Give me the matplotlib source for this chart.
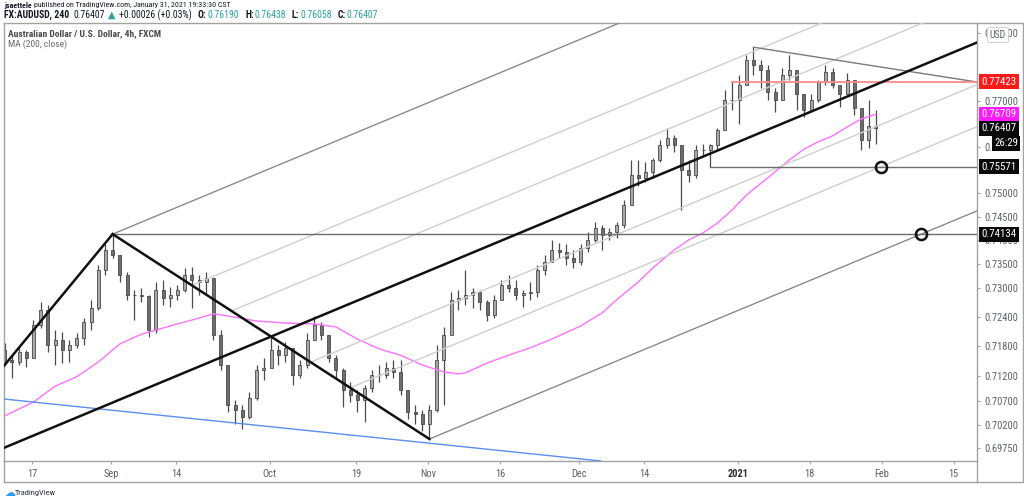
import numpy as np
import pandas as pd
import matplotlib
matplotlib.use('Agg')
import matplotlib.pyplot as plt
from matplotlib import font_manager
from matplotlib.lines import Line2D
from matplotlib.ticker import FixedLocator, NullLocator, FuncFormatter


def pick_font(names):
    for n in names:
        try:
            font_manager.findfont(n, fallback_to_default=False)
            return n
        except Exception:
            pass
    return 'DejaVu Sans'


FONT = pick_font(['Liberation Sans Narrow', 'Roboto Condensed', 'Lato'])
plt.rcParams['font.family'] = [FONT, 'DejaVu Sans']

# ---- daily AUD/USD bars (Aug 11 2020 .. Jan 29 2021) ----
holidays = ['2020-12-25', '2021-01-01']
dates = [d for d in pd.bdate_range('2020-08-11', '2021-01-29')
         if d.strftime('%Y-%m-%d') not in holidays]

first_open = 0.7173
highs = [0.7187, 0.7163, 0.7179, 0.7173,
         0.7234, 0.7272, 0.7265, 0.7214, 0.7210,
         0.7193, 0.7208, 0.7238, 0.7276, 0.7349,
         0.7392, 0.74134, 0.7370, 0.7334, 0.7296,
         0.7300, 0.7286, 0.7313, 0.7317, 0.7303,
         0.7307, 0.7342, 0.7344, 0.7328, 0.7334,
         0.7321, 0.7214, 0.7142, 0.7072, 0.7062,
         0.7088, 0.7142, 0.7157, 0.7199, 0.7183,
         0.7189, 0.7173, 0.7153, 0.7208, 0.7242,
         0.7230, 0.7204, 0.7163, 0.7136, 0.7108,
         0.7092, 0.7102, 0.7132, 0.7142, 0.7149,
         0.7153, 0.7152, 0.7092, 0.7062, 0.7052,
         0.7062, 0.7183, 0.7220, 0.7292, 0.7296,
         0.7338, 0.7300, 0.7296, 0.7276, 0.7286,
         0.7317, 0.7328, 0.7317, 0.7296, 0.7313,
         0.7349, 0.7370, 0.7401, 0.7395, 0.7392,
         0.7380, 0.7392, 0.7418, 0.7439, 0.7433,
         0.7426, 0.7439, 0.7486, 0.7572, 0.7572,
         0.7568, 0.7576, 0.7615, 0.7641, 0.7626,
         0.7598, 0.7572, 0.7604, 0.7606,
         0.7606, 0.7641, 0.7724, 0.77423,
         0.7757, 0.7802, 0.7819, 0.7790, 0.7779,
         0.7729, 0.7773, 0.7802, 0.7764, 0.7715,
         0.7715, 0.7746, 0.7779, 0.7773, 0.7735,
         0.7762, 0.7746, 0.7680, 0.7702, 0.7680]
lows = [0.7142, 0.7116, 0.7142, 0.7138,
        0.7157, 0.7218, 0.7169, 0.7142, 0.7146,
        0.7149, 0.7177, 0.7183, 0.7214, 0.7255,
        0.7328, 0.7363, 0.7313, 0.7276, 0.7234,
        0.7272, 0.7199, 0.7208, 0.7265, 0.7261,
        0.7276, 0.7292, 0.7259, 0.7286, 0.7286,
        0.7193, 0.7132, 0.7048, 0.7022, 0.7012,
        0.7032, 0.7072, 0.7112, 0.7142, 0.7142,
        0.7149, 0.7102, 0.7116, 0.7136, 0.7193,
        0.7193, 0.7149, 0.7116, 0.7058, 0.7068,
        0.7048, 0.7026, 0.7088, 0.7108, 0.7116,
        0.7116, 0.7082, 0.7032, 0.7022, 0.7008,
        0.6993, 0.7048, 0.7062, 0.7214, 0.7255,
        0.7265, 0.7259, 0.7255, 0.7232, 0.7238,
        0.7276, 0.7292, 0.7276, 0.7261, 0.7276,
        0.7282, 0.7328, 0.7355, 0.7363, 0.7349,
        0.7342, 0.7349, 0.7376, 0.7397, 0.7380,
        0.7401, 0.7405, 0.7426, 0.7475, 0.7516,
        0.7524, 0.7533, 0.7568, 0.7598, 0.7589,
        0.7464, 0.7524, 0.7533, 0.7580,
        0.75571, 0.7593, 0.7637, 0.7680,
        0.7650, 0.7735, 0.7757, 0.7729, 0.7702,
        0.7676, 0.7702, 0.7746, 0.7680, 0.7665,
        0.7676, 0.7698, 0.7735, 0.7729, 0.7687,
        0.7715, 0.7669, 0.7593, 0.7598, 0.7606]
closes = [0.7153, 0.7149, 0.7169, 0.7157,
          0.7224, 0.7255, 0.7183, 0.7193, 0.7173,
          0.7183, 0.7197, 0.7230, 0.7259, 0.7338,
          0.7380, 0.7370, 0.7328, 0.7286, 0.7286,
          0.7284, 0.7214, 0.7296, 0.7280, 0.7286,
          0.7296, 0.7328, 0.7317, 0.7313, 0.7321,
          0.7204, 0.7142, 0.7062, 0.7052, 0.7036,
          0.7076, 0.7132, 0.7136, 0.7173, 0.7163,
          0.7177, 0.7122, 0.7142, 0.7193, 0.7224,
          0.7204, 0.7157, 0.7132, 0.7092, 0.7082,
          0.7072, 0.7096, 0.7122, 0.7122, 0.7136,
          0.7128, 0.7092, 0.7048, 0.7042, 0.7022,
          0.7052, 0.7153, 0.7204, 0.7276, 0.7280,
          0.7286, 0.7292, 0.7272, 0.7244, 0.7276,
          0.7307, 0.7300, 0.7286, 0.7290, 0.7292,
          0.7338, 0.7355, 0.7380, 0.7376, 0.7363,
          0.7355, 0.7384, 0.7401, 0.7426, 0.7412,
          0.7418, 0.7433, 0.7475, 0.7540, 0.7533,
          0.7546, 0.7572, 0.7604, 0.7619, 0.7604,
          0.7550, 0.7540, 0.7593, 0.7593,
          0.7604, 0.7637, 0.7702, 0.7702,
          0.7735, 0.7790, 0.7779, 0.7768, 0.7720,
          0.7702, 0.7757, 0.7768, 0.7715, 0.7680,
          0.7702, 0.7742, 0.7764, 0.7735, 0.7715,
          0.7746, 0.7685, 0.7615, 0.7646, 0.76407]
opens = [first_open] + closes[:-1]

# MA(200, close) of the 4h series, read at a few dates
ma_dates = ['2020-08-11', '2020-08-17', '2020-08-20', '2020-08-25', '2020-08-28',
            '2020-09-02', '2020-09-07', '2020-09-11', '2020-09-16', '2020-09-21',
            '2020-09-24', '2020-09-29', '2020-10-05', '2020-10-09', '2020-10-14',
            '2020-10-19', '2020-10-22', '2020-10-27', '2020-10-30', '2020-11-04',
            '2020-11-06', '2020-11-09', '2020-11-12', '2020-11-17', '2020-11-20',
            '2020-11-25', '2020-12-01', '2020-12-04', '2020-12-08', '2020-12-11',
            '2020-12-15', '2020-12-18', '2020-12-22', '2020-12-24', '2020-12-29',
            '2020-12-31', '2021-01-05', '2021-01-07', '2021-01-11', '2021-01-13',
            '2021-01-15', '2021-01-19', '2021-01-21', '2021-01-25', '2021-01-27',
            '2021-01-29']
ma_values = [0.7039, 0.7067, 0.7099, 0.7118, 0.7148,
             0.7185, 0.7205, 0.7222, 0.7234, 0.7247,
             0.7240, 0.7232, 0.7228, 0.7226, 0.7220,
             0.7195, 0.7175, 0.7162, 0.7142, 0.7128,
             0.7124, 0.7126, 0.7146, 0.7162, 0.7177,
             0.7195, 0.7222, 0.7249, 0.7276, 0.7313,
             0.7342, 0.7380, 0.7401, 0.7416, 0.7437,
             0.7464, 0.7496, 0.7521, 0.7546, 0.7572,
             0.7595, 0.7611, 0.7624, 0.7643, 0.7661,
             0.76709]

# drawing anchors (date, price)
fork_p1 = ('2020-08-11', 0.6976)   # point on the median line at the left edge
fork_p2 = ('2020-09-01', 0.74134)
fork_p3 = ('2020-11-02', 0.6993)
fork_levels = [-1.0, -0.5, -0.25, 0.25, 0.5, 1.0]
trend_a = ('2020-08-11', 0.7142)
blue_a = ('2020-08-11', 0.7073)
blue_b = ('2020-12-04', 0.6949)
wedge_a = ('2021-01-06', 0.7819)
wedge_b = ('2021-02-18', 0.7742)
level_hi = ('2020-12-31', 0.77423)
level_mid = ('2020-12-28', 0.75571)
level_lo = ('2020-09-01', 0.74134)

y_ticks = [0.785, 0.77, 0.76, 0.75, 0.745, 0.74, 0.735, 0.73, 0.724,
           0.718, 0.712, 0.707, 0.702, 0.6975]
x_tick_dates = ['2020-08-17', '2020-09-01', '2020-09-14', '2020-10-01', '2020-10-19',
                '2020-11-02', '2020-11-16', '2020-12-01', '2020-12-14', '2021-01-04',
                '2021-01-18', '2021-02-01', '2021-02-15']
x_tick_labels = ['17', 'Sep', '14', 'Oct', '19', 'Nov', '16', 'Dec', '14', '2021',
                 '18', 'Feb', '15']


def day(s):
    return float(np.busday_count('2020-08-17', s, holidays=holidays))


def pos(s):
    return day(s) + 0.2


W, H = 1024, 503
fig = plt.figure(figsize=(W / 100, H / 100), dpi=100)
fig.patch.set_facecolor('white')
ax = fig.add_axes([4 / W, (H - 461) / H, 973 / W, 438 / H])
ax.set_yscale('log')
X0, X1 = -3.889, 131.25
ax.set_xlim(X0, X1)
ax.set_ylim(0.69493, 0.78731)

# candles
xs = np.array([pos(d.strftime('%Y-%m-%d')) for d in dates])
o = np.array(opens)
c = np.array(closes)
up = c >= o
ax.vlines(xs, lows, highs, color='#4a4a4a', lw=0.9, zorder=2)
ax.bar(xs, np.maximum(np.abs(c - o), 1e-5), bottom=np.minimum(o, c), width=0.42,
       color=np.where(up, '#a8a8a8', '#6e6e6e'), edgecolor='#4a4a4a', linewidth=0.6,
       zorder=2)

# moving average
ax.plot([pos(d) for d in ma_dates], ma_values, color='#ff70ff', lw=1.0, zorder=3)


# pitchfork (straight lines on screen -> linear in log price)
def pt(a):
    return np.array([pos(a[0]), np.log(a[1])])


p1, p2, p3 = pt(fork_p1), pt(fork_p2), pt(fork_p3)
mid = (p2 + p3) / 2
direc = (mid - p1) / (mid - p1)[0]
XR = 140.0


def ray(start, color, lw, z=4):
    end = start + direc * (XR - start[0])
    ax.plot([start[0], end[0]], np.exp([start[1], end[1]]), color=color, lw=lw,
            zorder=z, solid_capstyle='butt')


start_med = p1 + direc * (X0 - 1 - p1[0])
ray(start_med, '#111111', 1.8, 5)
for lev in fork_levels:
    frac = 0.5 + lev / 2
    s = p2 + frac * (p3 - p2)
    ray(s, '#8a8a8a' if abs(lev) == 1 else '#cfcfcf', 1.0)

ax.plot([p2[0], p3[0]], np.exp([p2[1], p3[1]]), color='#111111', lw=1.8, zorder=5)
ta = pt(trend_a)
slope_t = (p2 - ta) / (p2 - ta)[0]
ta0 = ta + slope_t * (X0 - 1 - ta[0])
ax.plot([ta0[0], p2[0]], np.exp([ta0[1], p2[1]]), color='#111111', lw=1.8, zorder=5)

ax.axline((pos(blue_a[0]), blue_a[1]), (pos(blue_b[0]), blue_b[1]),
          color='#5b8ef0', lw=1.0, zorder=4)
ax.plot([pos(wedge_a[0]), pos(wedge_b[0])], [wedge_a[1], wedge_b[1]],
        color='#7a7a7a', lw=1.0, zorder=4)

ax.plot([pos(level_hi[0]), XR], [level_hi[1]] * 2, color='#ff8a8a', lw=1.3, zorder=4)
ax.plot([pos(level_mid[0]), XR], [level_mid[1]] * 2, color='#6e6e6e', lw=1.0, zorder=4)
ax.plot([pos(level_lo[0]), XR], [level_lo[1]] * 2, color='#6e6e6e', lw=1.0, zorder=4)

# circles where the horizontals meet the fork lines
s_half = p2 + 0.75 * (p3 - p2)
d1 = s_half[0] + (np.log(level_mid[1]) - s_half[1]) / direc[1]
d2 = p3[0] + (np.log(level_lo[1]) - p3[1]) / direc[1]
ax.plot([d1, d2], [level_mid[1], level_lo[1]], 'o', ms=8, mfc='none', mec='#111111',
        mew=1.8, zorder=6)

# axes styling
frame = '#a3a3a3'
for sp in ax.spines.values():
    sp.set_color(frame)
    sp.set_linewidth(1.0)
ax.yaxis.tick_right()
ax.yaxis.set_major_locator(FixedLocator(y_ticks))
ax.yaxis.set_minor_locator(NullLocator())
ax.yaxis.set_major_formatter(FuncFormatter(lambda v, p: f'{v:.5f}'))
ax.xaxis.set_major_locator(FixedLocator([day(d) for d in x_tick_dates]))
ax.xaxis.set_minor_locator(NullLocator())
ax.set_xticklabels(x_tick_labels)
ax.tick_params(axis='both', colors=frame, labelcolor='#5d606b', labelsize=7.5,
               length=2.5, width=0.8, pad=3)
for t in ax.get_xticklabels():
    if t.get_text() == '2021':
        t.set_fontweight('bold')
        t.set_color('#2a2e39')

# right-hand price tags
tags = [(0.77423, '#ff1a1a'), (0.76709, '#ff1aff'), (0.76407, '#0a0a0a'),
        (0.75571, '#0a0a0a'), (0.74134, '#0a0a0a')]
for val, col in tags:
    ax.annotate(f'{val:.5f}', xy=(1, val), xycoords=('axes fraction', 'data'),
                xytext=(3.2, 0), textcoords='offset points', va='center', ha='left',
                fontsize=7.8, color='white', annotation_clip=False, zorder=10,
                bbox=dict(boxstyle='square,pad=0.22', fc=col, ec='none'))
ax.annotate('26:29', xy=(1, 0.76407), xycoords=('axes fraction', 'data'),
            xytext=(29.5, -11), textcoords='offset points', va='center', ha='right',
            fontsize=7.8, color='white', annotation_clip=False, zorder=9,
            bbox=dict(boxstyle='square,pad=0.22', fc='#0a0a0a', ec='none'))
fig.text(998 / W, 1 - 35 / H, 'USD', ha='center', va='center', fontsize=7,
         color='#5d606b', zorder=10,
         bbox=dict(boxstyle='round,pad=0.25,rounding_size=0.2', fc='white', ec='#d0d0d0',
                   lw=0.7))


# outer frame around chart + axes panels
def fline(x1, y1, x2, y2):
    fig.add_artist(Line2D([x1 / W, x2 / W], [1 - y1 / H, 1 - y2 / H], color=frame,
                          lw=1.0, transform=fig.transFigure))


fline(977, 23, 1023, 23)
fline(4, 482, 1023, 482)
fline(4, 461, 4, 482)
fline(977, 461, 977, 482)
fline(1023, 23, 1023, 482)

# header
fig.canvas.draw()
rend = fig.canvas.get_renderer()
dark = '#131722'
teal = '#26a69a'


def text_row(y, pieces, size):
    x = 4.0
    for s, col, fw, gap in pieces:
        t = fig.text(x / W, 1 - y / H, s, fontsize=size, va='center', color=col,
                     fontweight=fw)
        x += t.get_window_extent(renderer=rend).width + gap


text_row(5.5, [('jsaettele', dark, 'bold', 2.5),
               ('published on TradingView.com, January 31, 2021 19:33:30 CST', dark,
                'normal', 0)], 5.7)
text_row(15, [('FX:AUDUSD, 240', dark, 'bold', 4), ('0.76407', dark, 'normal', 3.5),
              ('\u25b2', teal, 'normal', 3.5), ('+0.00026 (+0.03%)', dark, 'normal', 6),
              ('O:', dark, 'bold', 0.8), ('0.76190', teal, 'normal', 6),
              ('H:', dark, 'bold', 0.8), ('0.76438', teal, 'normal', 6),
              ('L:', dark, 'bold', 0.8), ('0.76058', teal, 'normal', 6),
              ('C:', dark, 'bold', 0.8), ('0.76407', teal, 'normal', 0)], 7.0)

fig.text(8 / W, 1 - 34 / H, 'Australian Dollar / U.S. Dollar, 4h, FXCM', fontsize=6.8,
         fontweight='bold', color='#4a4a4a', va='center')
fig.text(8 / W, 1 - 44 / H, 'MA (200, close)', fontsize=6.8, color='#6a6a6a',
         va='center')

fig.text(4 / W, 1 - 493 / H, '\u2601', fontsize=8, color='#2e9ae6', va='center',
         family='DejaVu Sans')
fig.text(15 / W, 1 - 493 / H, 'TradingView', fontsize=6, color='#2a2e39', va='center')

fig.savefig('out.png', dpi=100, facecolor='white')
